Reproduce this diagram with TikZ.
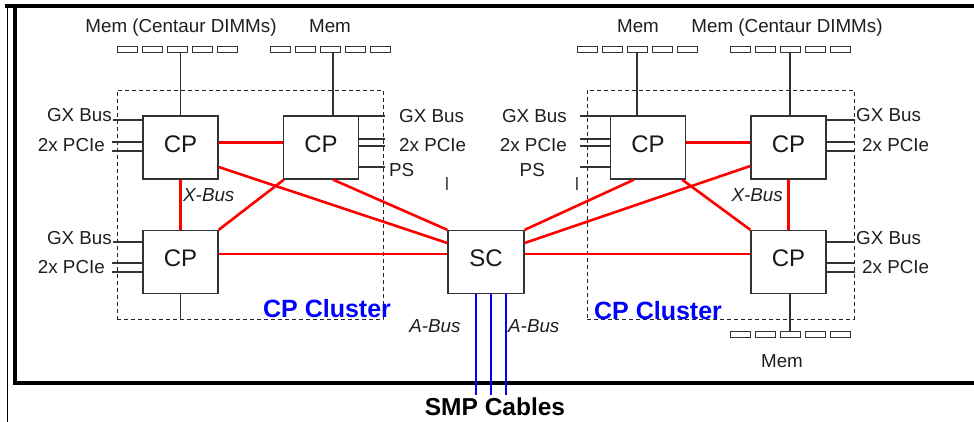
\documentclass[tikz,border=0pt]{standalone}
\usepackage{fontspec}
\setmainfont{Liberation Sans}
\begin{document}
\begin{tikzpicture}[x=1pt,y=-1pt,
  cpbox/.style={draw=black!80,line width=1.3pt,minimum width=75pt,minimum height=63pt,inner sep=0pt,text depth=7pt,text=black!90,font=\fontsize{24}{24}\selectfont},
  membar/.style={draw=black!80,line width=1pt,minimum width=20pt,minimum height=6pt,inner sep=0pt},
  cluster/.style={draw=black!85,dash pattern=on 4pt off 3pt,line width=0.9pt,minimum width=266pt,minimum height=229pt,inner sep=0pt},
  lbl/.style={font=\fontsize{18.8}{18.8}\selectfont,text=black!88,inner sep=0pt},
  busl/.style={lbl,font=\fontsize{18.8}{18.8}\selectfont\itshape},
  clname/.style={inner sep=0pt,text=blue,font=\fontsize{25}{25}\selectfont\bfseries},
  xlink/.style={red,line width=2.6pt},
  stub/.style={black!80,line width=1.3pt},
  abus/.style={blue,line width=2.6pt}]
\useasboundingbox (0,0) rectangle (974,422);
\draw[line width=4pt] (5,6) -- (974,6);
\draw[line width=4pt] (974,382.5) -- (15,382.5) -- (15,4);
\draw[line width=0.8pt] (7.5,4) -- (7.5,422);
\node[cluster] (cla) at (250,204.5) {};
\node[cluster,minimum width=267pt] (clb) at (720.5,204.5) {};
\node[cpbox] (cpa) at (180.5,147.5) {CP};
\node[cpbox] (cpb) at (321,147.5) {CP};
\node[cpbox] (cpc) at (180.5,262) {CP};
\node[cpbox,minimum width=76pt] (sc) at (486,262) {SC};
\node[cpbox] (cpd) at (648,147.5) {CP};
\node[cpbox] (cpe) at (788.5,147.5) {CP};
\node[cpbox] (cpf) at (788.5,262) {CP};
\foreach \i in {0,...,4} {
  \node[membar] (ma\i) at ({127+25*\i},50) {};
  \node[membar] (mb\i) at ({280+25*\i},50) {};
  \node[membar] (md\i) at ({587+25*\i},50) {};
  \node[membar] (me\i) at ({740+25*\i},50) {};
  \node[membar] (mf\i) at ({740+25*\i},334.5) {};
}
\draw[stub] (cpa.north |- ma2.south) -- (cpa.north);
\draw[stub] ([xshift=12pt]cpb.north |- mb2.south) -- ([xshift=12pt]cpb.north);
\draw[stub] (md2.south) -- (md2.south |- cpd.north);
\draw[stub] (me2.south) -- (me2.south |- cpe.north);
\draw[stub] (mf2.north) -- (mf2.north |- cpf.south);
\draw[stub] (cpc.south) -- (cpc.south |- cla.south);
\node[lbl,anchor=base] (mla) at (181,33) {Mem (Centaur DIMMs)};
\node[lbl,anchor=base] (mlb) at (330,33) {Mem};
\node[lbl,anchor=base] (mld) at (638,33) {Mem};
\node[lbl,anchor=base] (mle) at (787,33) {Mem (Centaur DIMMs)};
\node[lbl,anchor=base] (mlf) at (782,367) {Mem};
\coordinate (gxa) at (113,120);
\coordinate (pca1) at (112,142);
\coordinate (pca2) at (112,151);
\coordinate (gxc) at (113,242);
\coordinate (pcc1) at (112,263);
\coordinate (pcc2) at (112,272);
\coordinate (gxb) at (385,116);
\coordinate (pcb1) at (385,139);
\coordinate (pcb2) at (385,146);
\coordinate (psb) at (385,167);
\coordinate (gxd) at (580,116);
\coordinate (pcd1) at (580,139);
\coordinate (pcd2) at (580,146);
\coordinate (psd) at (580,167);
\coordinate (gxe) at (855,120);
\coordinate (pce1) at (855,142);
\coordinate (pce2) at (855,151);
\coordinate (gxf) at (855,242);
\coordinate (pcf1) at (855,263);
\coordinate (pcf2) at (855,272);
\foreach \c/\n in {gxa/cpa,pca1/cpa,pca2/cpa,gxc/cpc,pcc1/cpc,pcc2/cpc} \draw[stub] (\c) -- (\c -| \n.west);
\foreach \c/\n in {gxb/cpb,pcb1/cpb,pcb2/cpb,psb/cpb,gxe/cpe,pce1/cpe,pce2/cpe,gxf/cpf,pcf1/cpf,pcf2/cpf} \draw[stub] (\c) -- (\c -| \n.east);
\foreach \c in {gxd,pcd1,pcd2,psd} \draw[stub] (\c) -- (\c -| cpd.west);
\node[lbl,anchor=base east] (tgxa) at (112,122) {GX Bus};
\node[lbl,anchor=base east] (tpca) at (105,152) {2x PCIe};
\node[lbl,anchor=base east] (tgxc) at (112,244) {GX Bus};
\node[lbl,anchor=base east] (tpcc) at (105,273) {2x PCIe};
\node[lbl,anchor=base west] (tgxb) at (399,123) {GX Bus};
\node[lbl,anchor=base west] (tpcb) at (399,152) {2x PCIe};
\node[lbl,anchor=base west] (tpsb) at (389,177) {PS};
\node[lbl,anchor=base east] (tgxd) at (567,123) {GX Bus};
\node[lbl,anchor=base east] (tpcd) at (567,152) {2x PCIe};
\node[lbl,anchor=base east] (tpsd) at (545,177) {PS};
\node[lbl,anchor=base west] (tgxe) at (856,122) {GX Bus};
\node[lbl,anchor=base west] (tpce) at (862,152) {2x PCIe};
\node[lbl,anchor=base west] (tgxf) at (856,244) {GX Bus};
\node[lbl,anchor=base west] (tpcf) at (862,273) {2x PCIe};
\node[lbl,anchor=base,text=black!70] (ia) at (447,190) {I};
\node[lbl,anchor=base,text=black!70] (ib) at (577,190) {I};
\draw[xlink] ([yshift=5pt]cpa.east) -- ([yshift=5pt]cpb.west);
\draw[xlink] (cpa.south) -- (cpc.north);
\draw[xlink] (cpc.north east) -- ([xshift=1pt]cpb.south west);
\draw[xlink] ([yshift=-19.5pt]cpa.east) -- ([yshift=19pt]sc.west);
\draw[xlink] ([xshift=12pt]cpb.south) -- (sc.north west);
\draw[xlink] ([yshift=8pt]cpc.east) -- ([yshift=8pt]sc.west);
\draw[xlink] ([yshift=8pt]sc.east) -- ([yshift=8pt]cpf.west);
\draw[xlink] (sc.north east) -- ([xshift=-14pt]cpd.south);
\draw[xlink] ([yshift=19pt]sc.east) -- ([yshift=-18.5pt]cpe.west);
\draw[xlink] ([yshift=5pt]cpd.east) -- ([yshift=5pt]cpe.west);
\draw[xlink] (cpe.south) -- (cpf.north);
\draw[xlink] ([xshift=-4pt]cpd.south east) -- (cpf.north west);
\node[busl,anchor=base west] (xba) at (183,202) {X-Bus};
\node[busl,anchor=base east] (xbe) at (783,202) {X-Bus};
\coordinate (sma) at (476,395);
\coordinate (smb) at (491,395);
\coordinate (smc) at (506,395);
\foreach \c in {sma,smb,smc} \draw[abus] (\c |- sc.south) -- (\c);
\node[busl,anchor=base] (aba) at (435,332) {A-Bus};
\node[busl,anchor=base west] (abb) at (508,332) {A-Bus};
\node[clname,anchor=base] (cna) at (327,317) {CP Cluster};
\node[clname,anchor=base] (cnb) at (658,319) {CP Cluster};
\node[inner sep=0pt,anchor=base,font=\fontsize{24.5}{24.5}\selectfont\bfseries] (smp) at (495,415) {SMP Cables};
\end{tikzpicture}
\end{document}
